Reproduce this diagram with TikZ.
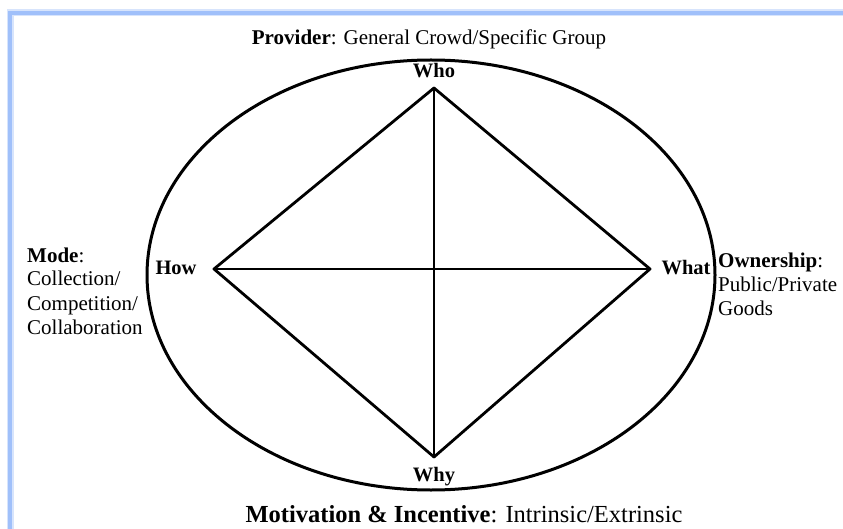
\documentclass[tikz,border=0pt]{standalone}
\usepackage{fontspec}
\setmainfont{Liberation Serif}
\definecolor{frameblue}{RGB}{160,192,250}
\definecolor{frameblur}{RGB}{215,228,252}
\begin{document}
\begin{tikzpicture}[x=1pt,y=-1pt,
  frame/.style={line width=3.5pt, frameblue},
  frameb/.style={line width=7pt, frameblur},
  ring/.style={line width=3pt, black},
  edge/.style={line width=2.8pt, black, line cap=round, line join=round},
  vlabel/.style={inner sep=0pt, anchor=base, font=\fontsize{20.5}{24}\selectfont\bfseries},
  dim/.style={inner sep=0pt, font=\fontsize{21}{24}\selectfont},
  dimbig/.style={inner sep=0pt, anchor=base, font=\fontsize{24.5}{28}\selectfont}]
\useasboundingbox (0,0) rectangle (843,529);
\fill[white] (0,0) rectangle (843,529);
% frame
\draw[frameb] (10,529) -- (10,13) -- (843,13);
\draw[frame] (10,529) -- (10,13) -- (843,13);
% outer ellipse
\draw[ring] (431,275) ellipse [x radius=284pt, y radius=215pt];
% diamond vertices
\coordinate (who) at (434,88);
\coordinate (what) at (650,269);
\coordinate (why) at (434,457);
\coordinate (how) at (214,269);
\draw[edge] (who) -- (what) -- (why) -- (how) -- cycle;
\draw[edge] (who) -- (why);
\draw[edge] (how) -- (what);
% vertex labels
\node[vlabel] (whot) at (434,78) {Who};
\node[vlabel] (howt) at (176,275) {How};
\node[vlabel] (whatt) at (686,275) {What};
\node[vlabel] (whyt) at (434,481) {Why};
% dimension labels
\node[dim, anchor=base] (prov) at (429,45) {\textbf{Provider}: General Crowd/Specific Group};
\node[dim, anchor=base west] (mode) at (27,262) {\begin{tabular}[t]{@{}l@{}}\textbf{Mode}:\\Collection/\\Competition/\\Collaboration\end{tabular}};
\node[dim, anchor=base west] (own) at (718,268) {\begin{tabular}[t]{@{}l@{}}\textbf{Ownership}:\\Public/Private\\Goods\end{tabular}};
\node[dimbig] (motiv) at (464,522) {\textbf{Motivation \& Incentive}: Intrinsic/Extrinsic};
\end{tikzpicture}
\end{document}
